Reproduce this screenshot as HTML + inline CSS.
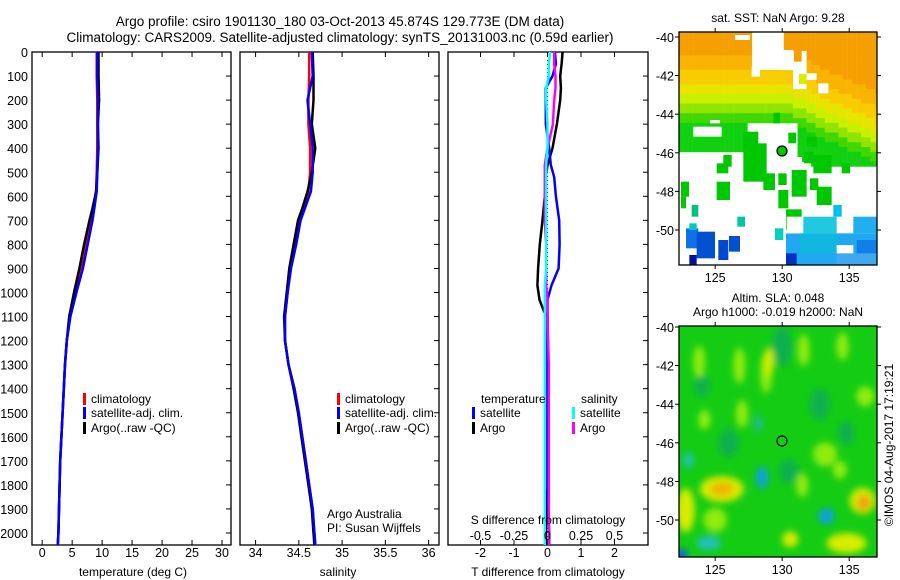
<!DOCTYPE html>
<html><head><meta charset="utf-8"><style>
body{margin:0;background:#fff;}
svg{display:block;font-family:"Liberation Sans",sans-serif;}
text{fill:#000;}
</style></head><body>
<svg id="c" width="900" height="580" viewBox="0 0 900 580">
<defs>
<clipPath id="cp1"><rect x="679" y="32" width="198" height="233"/></clipPath>
<clipPath id="cp2"><rect x="679" y="326" width="198" height="231"/></clipPath>
<filter id="bl" x="-50%" y="-50%" width="200%" height="200%"><feGaussianBlur stdDeviation="3.5"/></filter>
</defs>
<text x="340" y="26" font-size="13.5" text-anchor="middle">Argo profile: csiro 1901130_180 03-Oct-2013 45.874S 129.773E (DM data)</text>
<text x="340" y="42" font-size="13.5" text-anchor="middle">Climatology: CARS2009. Satellite-adjusted climatology: synTS_20131003.nc (0.59d earlier)</text>
<g id="g"></g>
</svg>
<script>
// ---------- data ----------
const depths = [0,100,200,300,400,500,580,650,700,800,900,1000,1100,1200,1300,1400,1500,1600,1700,1800,1900,2000,2050];
const tempClim = [9.1,9.1,9.2,9.2,9.2,9.1,9.0,8.6,8.2,7.3,6.5,5.5,4.6,4.1,3.8,3.6,3.4,3.2,3.0,2.9,2.8,2.7,2.6];
const tempSat  = [9.2,9.2,9.3,9.3,9.3,9.2,9.1,8.7,8.4,7.6,6.8,5.7,4.7,4.1,3.8,3.6,3.4,3.2,3.0,2.9,2.8,2.7,2.6];
const tempArgo = [9.4,9.4,9.5,9.3,9.4,9.2,9.0,8.4,7.9,7.0,6.2,5.3,4.5,4.1,3.8,3.6,3.4,3.2,3.0,2.9,2.8,2.7,2.6];
const salClim = [34.62,34.62,34.61,34.61,34.63,34.63,34.61,34.55,34.50,34.45,34.40,34.37,34.34,34.34,34.38,34.45,34.50,34.54,34.58,34.62,34.66,34.68,34.69];
const salSat  = [34.65,34.66,34.60,34.63,34.66,34.66,34.64,34.57,34.52,34.47,34.41,34.37,34.34,34.34,34.38,34.45,34.50,34.54,34.58,34.62,34.66,34.68,34.69];
const salArgo = [34.66,34.67,34.67,34.65,34.69,34.65,34.60,34.54,34.49,34.44,34.39,34.36,34.33,34.34,34.38,34.44,34.49,34.53,34.57,34.61,34.65,34.67,34.68];
const diffDepths = [0,50,100,150,200,300,400,470,520,600,700,800,900,970,1030,1080,1100,1300,1600,1800,2000,2050];
const tDiffSat  = [0.22,0.25,0.15,-0.05,-0.05,-0.05,0.05,0.1,0.2,0.25,0.35,0.36,0.33,0.12,0.0,0.0,0.0,0.0,0.0,0.0,0.05,0.05];
const tDiffArgo = [0.45,0.42,0.38,0.40,0.38,0.28,0.15,0.0,-0.05,-0.08,-0.15,-0.23,-0.28,-0.3,-0.24,-0.1,0.0,0.0,0.0,0.0,-0.05,-0.05];
const sDiffArgo = [0.05,0.05,0.06,0.06,0.05,0.04,0.0,-0.02,-0.02,-0.02,-0.02,-0.01,-0.01,-0.01,0.0,0.0,0.0,0.01,0.01,0.01,0.01,0.01];
const sDiffSat  = [0.02,0.01,0.01,-0.01,-0.01,0.0,0.0,-0.01,-0.01,-0.01,-0.01,-0.01,-0.01,-0.02,-0.02,-0.02,-0.02,-0.02,-0.02,-0.02,-0.02,-0.02];
const depthTicks = [0,100,200,300,400,500,600,700,800,900,1000,1100,1200,1300,1400,1500,1600,1700,1800,1900,2000];
const tempTicks = [0,5,10,15,20,25,30];
const salTicks = [34,34.5,35,35.5,36];
const salTickLabels = ["34","34.5","35","35.5","36"];
const tDiffTicks = [-2,-1,0,1,2];
const sDiffTicks = [-0.5,-0.25,0,0.25,0.5];
const sDiffTickLabels = ["-0.5","-0.25","0","0.25","0.5"];
const lonTicks = [125,130,135];
const latTicks = [-40,-42,-44,-46,-48,-50];

// ---------- helpers ----------
const NS="http://www.w3.org/2000/svg";
const G=document.getElementById('g');
function mk(tag,attrs,parent){const e=document.createElementNS(NS,tag);for(const k in attrs)e.setAttribute(k,attrs[k]);(parent||G).appendChild(e);return e;}
function txt(x,y,s,size,anchor,name){const t=mk('text',{x:x,y:y,'font-size':size,'text-anchor':anchor||'middle'});t.textContent=s;


return t;}
const Y=d=>52+d*0.2405;
const P1={x0:32,x1:231,lo:-1.7,hi:31.5};
const P2={x0:240,x1:439,lo:33.82,hi:36.12};
const P3={x0:448,x1:648,lo:-2.97,hi:3.0};
function sx(P,v){return P.x0+(v-P.lo)/(P.hi-P.lo)*(P.x1-P.x0);}
const yBot=545;

function panel(P,name){
  const r=mk('rect',{x:P.x0,y:52,width:P.x1-P.x0,height:yBot-52,fill:'#fff',stroke:'#000','stroke-width':1.3});
  
  
  depthTicks.forEach(d=>{mk('line',{x1:P.x1-5,x2:P.x1,y1:Y(d),y2:Y(d),stroke:'#000'});});
}
function line(P,xs,ds,color,w,name){
  const pts=xs.map((v,i)=>sx(P,v).toFixed(1)+','+Y(ds[i]).toFixed(1)).join(' ');
  const l=mk('polyline',{points:pts,fill:'none',stroke:color,'stroke-width':w,'stroke-linejoin':'round'});
  
  
}
function xticks(P,ticks,labels,ly,name){
  ticks.forEach((v,i)=>{const x=sx(P,v);
    mk('line',{x1:x,x2:x,y1:yBot,y2:yBot-5,stroke:'#000'});
    mk('line',{x1:x,x2:x,y1:52,y2:57,stroke:'#000'});
    txt(x,ly,labels[i],12.5,'middle',name);});
}
function legend(x,y,color,label,name){
  const r=mk('rect',{x:x,y:y-10,width:3,height:12,fill:color});
  
  
  txt(x+8,y,label,12,'start',name);
}

// panel 1 temperature
panel(P1,'temperature-panel');
depthTicks.forEach(d=>txt(28,Y(d)+5,String(d),12.5,'end','depth-tick-label'));
xticks(P1,tempTicks,tempTicks.map(String),557,'temperature-tick-label');
line(P1,tempClim,depths,'#f00',2.5,'temperature-climatology-line');
line(P1,tempArgo,depths,'#000',2.5,'temperature-argo-line');
line(P1,tempSat,depths,'#00f',2.5,'temperature-satellite-line');
txt(133,576,'temperature (deg C)',12,'middle','temperature-axis-title');
legend(83,403,'#f00','climatology','legend-climatology');
legend(83,417,'#00f','satellite-adj. clim.','legend-satellite');
legend(83,432,'#000','Argo(..raw -QC)','legend-argo');

// panel 2 salinity
panel(P2,'salinity-panel');
xticks(P2,salTicks,salTickLabels,557,'salinity-tick-label');
line(P2,salClim,depths,'#f00',2.5,'salinity-climatology-line');
line(P2,salArgo,depths,'#000',2.5,'salinity-argo-line');
line(P2,salSat,depths,'#00f',2.5,'salinity-satellite-line');
txt(338,576,'salinity',12,'middle','salinity-axis-title');
legend(337,403,'#f00','climatology','legend-climatology-2');
legend(337,417,'#00f','satellite-adj. clim.','legend-satellite-2');
legend(337,432,'#000','Argo(..raw -QC)','legend-argo-2');
txt(327,518,'Argo Australia',12,'start','argo-australia-label');
txt(327,532,'PI: Susan Wijffels',12,'start','pi-label');

// panel 3 differences
panel(P3,'difference-panel');
mk('line',{x1:sx(P3,0),x2:sx(P3,0),y1:52,y2:yBot,stroke:'#000','stroke-dasharray':'1,3'});
xticks(P3,tDiffTicks,tDiffTicks.map(String),557,'t-diff-tick-label');
line(P3,tDiffArgo,diffDepths,'#000',2.5,'t-diff-argo-line');
line(P3,tDiffSat,diffDepths,'#00f',2.5,'t-diff-satellite-line');
line(P3,sDiffArgo.map(v=>v*4),diffDepths,'#f0f',2.5,'s-diff-argo-line');
line(P3,sDiffSat.map(v=>v*4),diffDepths,'#0ff',2.5,'s-diff-satellite-line');
sDiffTicks.forEach((v,i)=>txt(sx(P3,v*4),540,sDiffTickLabels[i],12.5,'middle','s-diff-tick-label'));
txt(548,524,'S difference from climatology',12,'middle','s-diff-axis-title');
txt(548,576,'T difference from climatology',12,'middle','t-diff-axis-title');
txt(481,403,'temperature',12,'start','legend-temperature-header');
legend(472,417,'#00f','satellite','legend-t-satellite');
legend(472,432,'#000','Argo','legend-t-argo');
txt(581,403,'salinity',12,'start','legend-salinity-header');
legend(572,417,'#0ff','satellite','legend-s-satellite');
legend(572,432,'#f0f','Argo','legend-s-argo');

// ---------- maps ----------
const LX=lon=>679+(lon-122.3)*13.4;
function mapAxes(top,bot,lat0y,name){
  const r=mk('rect',{x:679,y:top,width:198,height:bot-top,fill:'none',stroke:'#000','stroke-width':1.3});
  
  
  latTicks.forEach(l=>{const y=lat0y+(-40-l)*19.3;
    mk('line',{x1:679,x2:675,y1:y,y2:y,stroke:'#000'});
    mk('line',{x1:877,x2:881,y1:y,y2:y,stroke:'#000'});
    txt(674,y+5,String(l),12.5,'end','latitude-tick-label');});
  lonTicks.forEach(l=>{const x=LX(l);
    mk('line',{x1:x,x2:x,y1:bot,y2:bot+4,stroke:'#000'});
    mk('line',{x1:x,x2:x,y1:top,y2:top-4,stroke:'#000'});
    txt(x,bot+17,String(l),12.5,'middle','longitude-tick-label');});
}
// SST map
const m1=mk('g',{'clip-path':'url(#cp1)'});
mk('rect',{x:679,y:32,width:198,height:233,fill:'#fff'},m1);
const LY1=lat=>37+(-40-lat)*19.3;
function sstColor(s){
  if(s<0.8)return '#f5a000'; if(s<1.6)return '#f8b400'; if(s<2.3)return '#f8cc00';
  if(s<2.9)return '#e8e400'; if(s<3.4)return '#c8f000'; if(s<3.9)return '#90e400'; if(s<4.4)return '#40d800'; return '#10d010';}
for(let lon=122.3;lon<137;lon+=0.34){for(let lat=-39.7;lat>-46.6;lat-=0.25){
  const s=(-40-lat)-(lon>130.5?(lon-130.5)*0.3:0);
  const lim=lon<127.3?5.8:(lon<131?4.3:5.9+(lon-131)*0.1);
  if(s>lim)continue;
  if(lon>127.6&&lon<129.9&&lat>-41.5)continue;
  if(lon>130.6&&lon<131.8&&lat>-42.6&&lat<-40.6)continue;
  mk('rect',{x:LX(lon).toFixed(1),y:LY1(lat).toFixed(1),width:4.8,height:5.2,fill:sstColor(s)},m1);
}}
const zp=(a,b,c,d,col)=>mk('rect',{x:650+a/3,y:b/3,width:(c-a)/3,height:(d-b)/3,fill:col},m1);
[[130,380,215,410],[180,360,210,370],[255,105,300,120],[395,150,430,210],[505,250,535,280],[305,200,330,230],[435,220,500,240]].forEach(p=>zp(p[0],p[1],p[2],p[3],'#fff'));
zp(432,150,455,185,'#f0a000');zp(447,222,470,252,'#d8f000');
const patches=[[280,395,325,440],[280,430,350,545],[370,338,390,370],[415,398,438,430],[385,520,410,555],[425,510,470,590],[480,535,505,570],[462,455,490,490],[490,465,545,520],[575,490,600,520],[500,560,545,615],[340,520,375,570],[385,570,415,625],[200,490,235,520],[220,465,245,500],[200,545,240,600],[93,545,117,590],[93,590,108,625],[408,628,455,690],[470,410,500,440]];
patches.forEach(p=>zp(p[0],p[1],p[2],p[3],'#00c800'));
zp(125,615,145,650,'#00c080');zp(262,650,285,680,'#00c8a0');zp(375,685,400,720,'#00d0c0');zp(550,615,575,650,'#00c0f0');
zp(408,700,683,800,'#20a8f0');zp(460,650,560,700,'#20c8e0');zp(610,650,683,700,'#20b0f0');
zp(450,700,560,760,'#10b8e0');zp(620,720,683,800,'#1080e8');zp(560,760,683,800,'#40a8f0');
zp(408,760,440,800,'#0030c0');zp(560,735,610,760,'#fff');zp(410,650,455,700,'#fff');
[[108,685,145,745,'#1070e8'],[140,695,195,775,'#0050d0'],[205,720,235,780,'#0048d0'],[237,708,270,755,'#0050d0'],[118,765,140,800,'#0010a0'],[118,670,140,690,'#00c8c0']].forEach(p=>zp(p[0],p[1],p[2],p[3],p[4]));
mapAxes(32,265,37,'sst-map');
const c1=mk('circle',{cx:782,cy:151,r:5,fill:'#00c800',stroke:'#000','stroke-width':1.2});


txt(778,22,'sat. SST: NaN Argo: 9.28',12,'middle','sst-map-title');

// SLA map
const m2=mk('g',{'clip-path':'url(#cp2)'});
mk('rect',{x:679,y:326,width:198,height:231,fill:'#14cc14'},m2);
const fb=mk('g',{filter:'url(#bl)'},m2);
const LY2=lat=>327+(-40-lat)*19.3;
const blob=(lon,lat,rx,ry,col)=>mk('ellipse',{cx:LX(lon),cy:LY2(lat),rx:rx,ry:ry,fill:col},fb);
[[130,-41,10,20],[132.8,-44,10,16],[126,-46,10,14],[130.5,-47.5,10,12],[134.8,-45.5,8,12],[124,-43,8,12]].forEach(b=>blob(b[0],b[1],b[2],b[3],'#10b050'));
[[123.8,-41.8,6,16],[126.8,-42,6,18],[128.8,-42.4,6,20],[131.6,-41.2,6,16],[134.5,-41,6,14],[136.2,-43.6,9,10],[127,-44.5,6,14],[124.2,-44.8,6,10],[133.2,-46.6,12,12],[131.5,-48.2,6,12],[125,-50,12,12],[134.3,-47.4,7,9]].forEach(b=>blob(b[0],b[1],b[2],b[3],'#90ec10'));
[[129,-41.8,5,14],[125.5,-48.4,22,13],[122.8,-49.5,9,22],[136,-49,13,13],[134.8,-51.2,20,10],[130.6,-51,8,8]].forEach(b=>blob(b[0],b[1],b[2],b[3],'#d8ec00'));
blob(125.5,-48.4,12,7,'#f0b400');blob(136.1,-49.1,7,8,'#f0a010');
[[128.5,-47.8,6,11,'#10a0e0'],[133.3,-49.8,8,8,'#10a0e0'],[123,-46.9,5,8,'#20c0c0'],[124.5,-51.2,12,7,'#20c0c0'],[122.5,-51.8,6,6,'#1060e0'],[128.2,-45,4,8,'#20b8a0']].forEach(b=>blob(b[0],b[1],b[2],b[3],b[4]));
mapAxes(326,557,327,'sla-map');
const c2=mk('circle',{cx:782,cy:441,r:5,fill:'none',stroke:'#000','stroke-width':1.2});


txt(778,302,'Altim. SLA: 0.048',12,'middle','sla-map-title');
txt(778,316,'Argo h1000: -0.019 h2000: NaN',12,'middle','sla-map-subtitle');
const cr=txt(0,0,'\u00a9IMOS 04-Aug-2017 17:19:21',12,'middle','copyright-label');
cr.setAttribute('transform','translate(893,445) rotate(-90)');
</script>
</body></html>
